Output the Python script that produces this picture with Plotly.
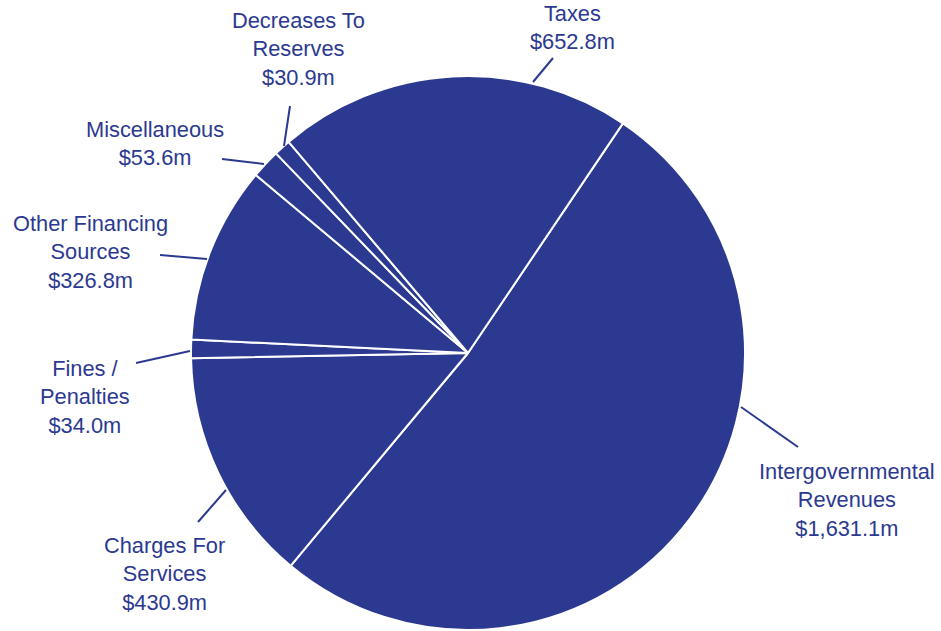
import plotly.graph_objects as go

# Revenue sources (millions of dollars), clockwise from the Taxes/Intergovernmental boundary
categories = [
    "Intergovernmental Revenues",
    "Charges For Services",
    "Fines / Penalties",
    "Other Financing Sources",
    "Miscellaneous",
    "Decreases To Reserves",
    "Taxes",
]
values = [1631.1, 430.9, 34.0, 326.8, 53.6, 30.9, 652.8]
label_lines = [
    ["Intergovernmental", "Revenues"],
    ["Charges For", "Services"],
    ["Fines /", "Penalties"],
    ["Other Financing", "Sources"],
    ["Miscellaneous"],
    ["Decreases To", "Reserves"],
    ["Taxes"],
]

W, H = 941, 631
BLUE = "#2b3990"
FONT = "Liberation Sans, Arial, Helvetica, sans-serif"

# pie geometry in pixels
cx, cy, r = 468, 353, 277

# label centres and leader lines (pixels)
label_pos = [(847, 500), (164, 574), (85, 397), (90, 252), (155, 144), (298, 49), (572, 28)]
leaders = [
    ((741, 407), (798, 447)),
    ((226, 490), (198, 522)),
    ((190, 351), (136, 363)),
    ((207, 259), (160, 255)),
    ((264, 164), (222, 159)),
    ((284, 146), (290, 106)),
    ((533, 82), (553, 58)),
]


def px(x):
    return x / W


def py(y):
    return 1 - y / H


fig = go.Figure(
    go.Pie(
        labels=categories,
        values=values,
        sort=False,
        direction="clockwise",
        rotation=34,
        textinfo="none",
        hoverinfo="label+value",
        marker=dict(colors=[BLUE] * len(values), line=dict(color="white", width=2)),
        domain=dict(x=[px(cx - r), px(cx + r)], y=[py(cy + r), py(cy - r)]),
        showlegend=False,
    )
)

annotations = []
for lines, v, (lx, ly) in zip(label_lines, values, label_pos):
    text = "<br>".join(lines + [f"${v:,.1f}m"])
    annotations.append(
        dict(
            x=px(lx), y=py(ly), xref="paper", yref="paper",
            text=text, showarrow=False, xanchor="center", yanchor="middle",
            align="center", font=dict(family=FONT, size=21.8, color=BLUE),
        )
    )

shapes = []
for (x0, y0), (x1, y1) in leaders:
    shapes.append(
        dict(
            type="line", xref="paper", yref="paper",
            x0=px(x0), y0=py(y0), x1=px(x1), y1=py(y1),
            line=dict(color=BLUE, width=2),
        )
    )

fig.update_layout(
    width=W, height=H,
    margin=dict(l=0, r=0, t=0, b=0),
    paper_bgcolor="white",
    plot_bgcolor="white",
    annotations=annotations,
    shapes=shapes,
)

fig.write_html("out.html")
